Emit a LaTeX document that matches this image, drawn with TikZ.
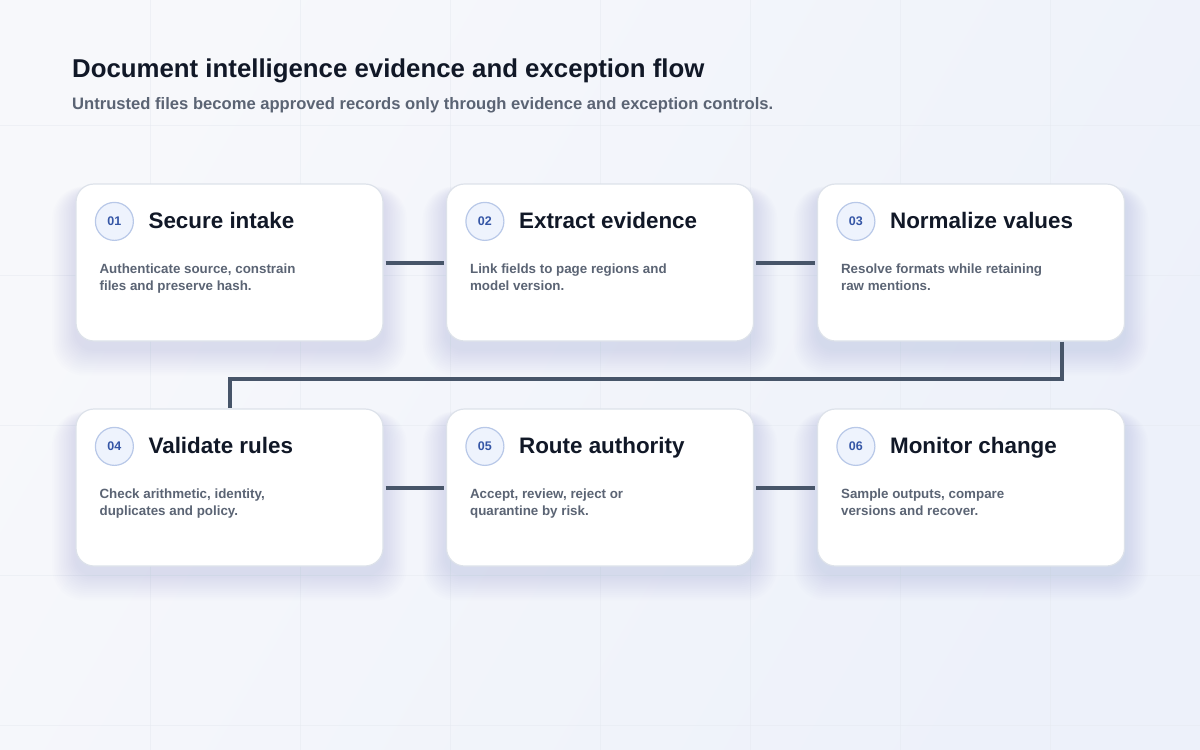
\documentclass[tikz,border=0pt]{standalone}
\usepackage{fontspec}
\setmainfont{Liberation Sans}
\usetikzlibrary{calc}
\definecolor{bgA}{HTML}{F7F8FB}
\definecolor{bgB}{HTML}{EDF1FA}
\definecolor{gridc}{HTML}{E6EAF1}
\definecolor{cardborder}{HTML}{DDE2EA}
\definecolor{titlec}{HTML}{111827}
\definecolor{subc}{HTML}{5B6474}
\definecolor{badgefill}{HTML}{EEF3FD}
\definecolor{badgeborder}{HTML}{B8C8E8}
\definecolor{badgetext}{HTML}{3556A6}
\definecolor{connc}{HTML}{475569}
\definecolor{shadowc}{HTML}{7A88A6}
\tikzset{
  x=1pt, y=-1pt,
  card/.style={draw=cardborder, line width=1.2pt, fill=white, rounded corners=18pt,
    minimum width=307pt, minimum height=157pt, inner sep=0pt},
  badge/.style={circle, draw=badgeborder, line width=1.2pt, fill=badgefill,
    minimum size=38pt, inner sep=0pt, text=badgetext, font=\fontsize{12.5}{14}\selectfont\bfseries},
  cardtitle/.style={anchor=base west, inner sep=0pt, text=titlec, font=\fontsize{22.4}{24}\selectfont\bfseries},
  carddesc/.style={anchor=north west, inner sep=0pt, text=subc, align=left,
    font=\fontsize{13.35}{16.5}\selectfont\bfseries},
  conn/.style={draw=connc, line width=4pt},
}
\newcommand{\cardshadow}[2]{%
  \foreach \i in {1,...,14}{
    \fill[shadowc, opacity=0.011, rounded corners=18pt+\i pt]
      ($(#1,#2)+(-153.5-\i*1.7,-78.5-\i*0.4+8)$) rectangle ($(#1,#2)+(153.5+\i*1.7,78.5+\i*1.9+8)$);
  }%
}
\begin{document}
\begin{tikzpicture}
\useasboundingbox (0,0) rectangle (1200,750);
\shade[shading=axis, left color=bgA, right color=bgB, shading angle=60] (0,0) rectangle (1200,750);
\foreach \gx in {150,300,...,1050} \draw[gridc, line width=0.8pt, opacity=0.5] (\gx,0) -- (\gx,750);
\foreach \gy in {125,275,...,725} \draw[gridc, line width=0.8pt, opacity=0.5] (0,\gy) -- (1200,\gy);

\node[anchor=base west, inner sep=0pt, text=titlec, font=\fontsize{25.8}{30}\selectfont\bfseries]
  (title) at (72,77) {Document intelligence evidence and exception flow};
\node[anchor=base west, inner sep=0pt, text=subc, font=\fontsize{16.6}{19}\selectfont\bfseries]
  (subtitle) at (72,109) {Untrusted files become approved records only through evidence and exception controls.};

\foreach \cx/\cy in {229.5/262.5, 600/262.5, 971/262.5, 229.5/487.5, 600/487.5, 971/487.5}{
  \cardshadow{\cx}{\cy}
}

\foreach \n/\cx/\cy/\num/\ttl/\da/\db in {
  c1/229.5/262.5/01/{Secure intake}/{Authenticate source, constrain}/{files and preserve hash.},
  c2/600/262.5/02/{Extract evidence}/{Link fields to page regions and}/{model version.},
  c3/971/262.5/03/{Normalize values}/{Resolve formats while retaining}/{raw mentions.},
  c4/229.5/487.5/04/{Validate rules}/{Check arithmetic, identity,}/{duplicates and policy.},
  c5/600/487.5/05/{Route authority}/{Accept, review, reject or}/{quarantine by risk.},
  c6/971/487.5/06/{Monitor change}/{Sample outputs, compare}/{versions and recover.}}{
  \node[card] (\n) at (\cx,\cy) {};
  \node[badge] (\n b) at ($(\n.north west)+(39,38)$) {\num};
  \node[cardtitle] (\n t) at ($(\n.north west)+(73,45.5)$) {\ttl};
  \node[carddesc] (\n d) at ($(\n.north west)+(24,80.5)$) {\da\\\db};
}

\draw[conn, shorten <=2pt, shorten >=2pt] (c1) -- (c2);
\draw[conn, shorten <=2pt, shorten >=2pt] (c2) -- (c3);
\draw[conn, shorten <=2pt, shorten >=2pt] (c4) -- (c5);
\draw[conn, shorten <=2pt, shorten >=2pt] (c5) -- (c6);
\coordinate (elbow) at (1062,379);
\draw[conn] (c3.south -| elbow) -- (elbow) -| (c4.north);
\end{tikzpicture}
\end{document}
